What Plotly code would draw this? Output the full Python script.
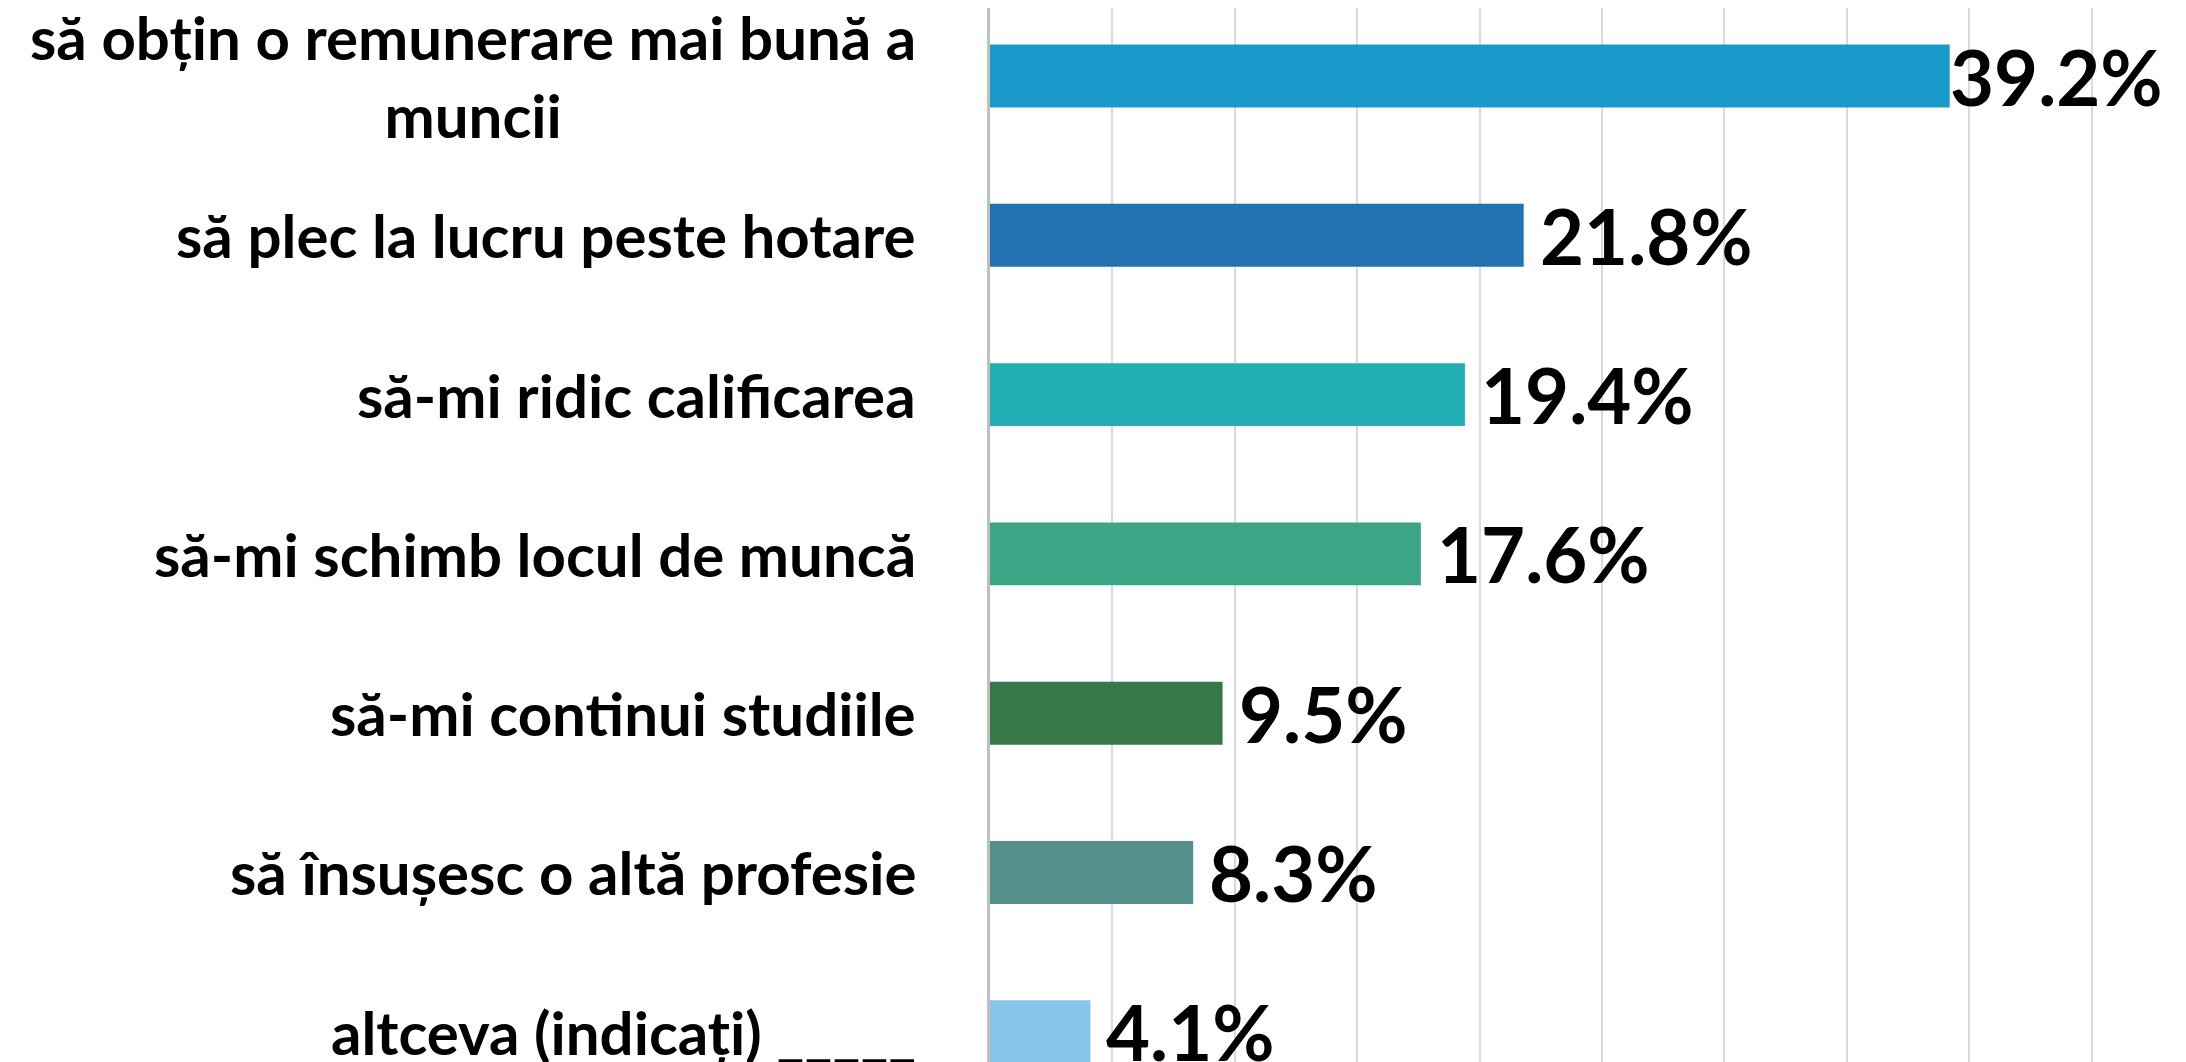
import plotly.graph_objects as go

categories = [
    "să obțin o remunerare mai bună a<br>muncii",
    "să plec la lucru peste hotare",
    "să-mi ridic calificarea",
    "să-mi schimb locul de muncă",
    "să-mi continui studiile",
    "să însușesc o altă profesie",
    "altceva (indicați) _____",
]
values = [39.2, 21.8, 19.4, 17.6, 9.5, 8.3, 4.1]
value_labels = ["39.2%", "21.8%", "19.4%", "17.6%", "9.5%", "8.3%", "4.1%"]
colors = ["#1A9ACB", "#2373B0", "#23AEB4", "#3BA585", "#36784A", "#558F8A", "#88C4EA"]

FONT = "Lato, Carlito, Calibri, sans-serif"

fig = go.Figure()
fig.add_trace(go.Bar(
    y=list(range(len(categories))),
    x=values,
    orientation="h",
    marker=dict(color=colors, line=dict(width=0)),
    width=0.395,
    hoverinfo="skip",
))

annotations = []
for i, (c, v, t) in enumerate(zip(categories, values, value_labels)):
    annotations.append(dict(
        x=0, y=i, xref="x", yref="y", text=c, showarrow=False,
        xanchor="right", yanchor="middle", align="center", xshift=-72,
        font=dict(family=FONT, size=60, color="#000000", weight="bold"),
    ))
    annotations.append(dict(
        x=v, y=i, xref="x", yref="y", text=t, showarrow=False,
        xanchor="left", yanchor="middle", xshift=(-2 if i == 0 else 14),
        font=dict(family=FONT, size=76, color="#000000", weight="bold"),
    ))

fig.update_layout(
    width=2186, height=1062,
    margin=dict(l=982, r=0, t=0, b=0),
    plot_bgcolor="white", paper_bgcolor="white",
    showlegend=False,
    annotations=annotations,
    xaxis=dict(range=[0, 49.18], dtick=5, showgrid=True, gridcolor="#d9d9d9",
               gridwidth=2, zeroline=False, showticklabels=False, showline=False),
    yaxis=dict(range=[6.24, -0.427], showticklabels=False, showgrid=False,
               zeroline=False, showline=True, linecolor="#bfbfbf", linewidth=3,
               ticks=""),
)

fig.write_html("out.html")
